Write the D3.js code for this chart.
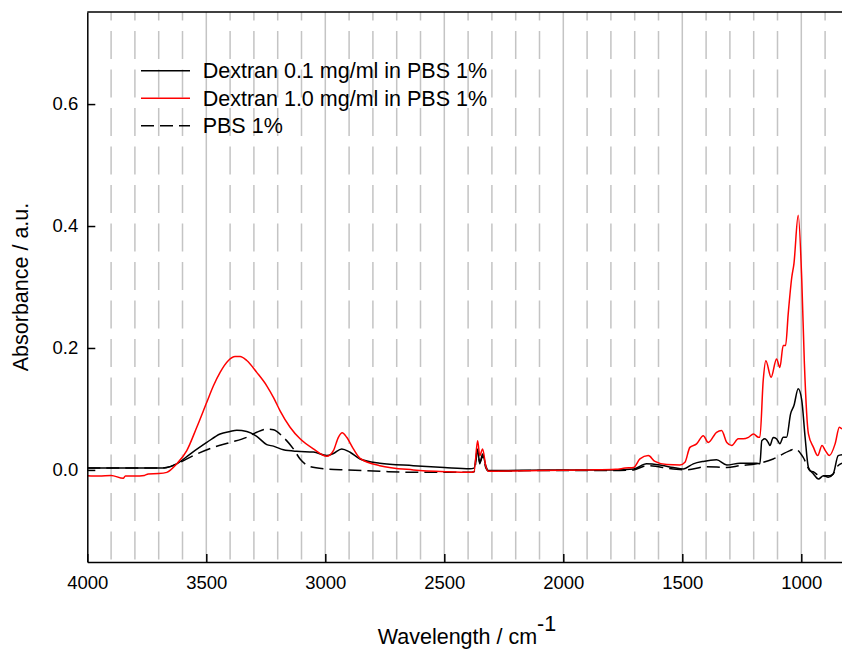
<!DOCTYPE html>
<html>
<head>
<meta charset="utf-8">
<script src="https://cdn.jsdelivr.net/npm/d3@7"></script>
<style>
  body { margin: 0; background: #fff; }
  svg { font-family: "Liberation Sans", Arial, sans-serif; }
</style>
</head>
<body>
<div id="chart"></div>
<script>
const width = 842;
const height = 649;
const margin = {'top': 12, 'bottom': 87, 'left': 87.3, 'right': 0};

// values (wavenumber in cm-1, absorbance in a.u.)
const dex01Wn  = [4000, 3900, 3800, 3700, 3666, 3624, 3568, 3498, 3442, 3400, 3372, 3330, 3288, 3246, 3218, 3176, 3120, 3050, 2994, 2966, 2931, 2896, 2854, 2771, 2630, 2500, 2392, 2375, 2360, 2351, 2339, 2325, 2315, 2296, 2057, 1800, 1705, 1650, 1594, 1538, 1496, 1454, 1412, 1356, 1313, 1258, 1188, 1174, 1166, 1153, 1139, 1132, 1118, 1104, 1090, 1076, 1062, 1045, 1031, 1013, 998, 984, 970, 949, 928, 907, 887, 866, 845, 829];
const dex01Abs = [0.003, 0.003, 0.003, 0.003, 0.004, 0.010, 0.026, 0.045, 0.059, 0.063, 0.065, 0.063, 0.055, 0.0415, 0.039, 0.033, 0.0305, 0.0295, 0.0235, 0.027, 0.0345, 0.029, 0.018, 0.011, 0.007, 0.004, 0.002, 0.003, 0.0345, 0.010, 0.026, 0.006, -0.001, -0.001, 0.000, 0.000, 0.0016, 0.010, 0.008, 0.004, 0.0016, 0.010, 0.014, 0.0165, 0.008, 0.011, 0.011, 0.010, 0.048, 0.051, 0.045, 0.040, 0.053, 0.051, 0.043, 0.0535, 0.0535, 0.092, 0.1055, 0.133, 0.114, 0.0535, 0.004, -0.0066, -0.015, -0.0094, -0.012, -0.0066, 0.0235, 0.025];

const dex10Wn  = [4000, 3950, 3900, 3849, 3840, 3800, 3760, 3744, 3700, 3666, 3624, 3582, 3540, 3498, 3470, 3442, 3407, 3379, 3358, 3330, 3288, 3246, 3218, 3190, 3148, 3106, 3050, 2994, 2966, 2945, 2929, 2910, 2882, 2854, 2771, 2630, 2490, 2392, 2375, 2360, 2351, 2339, 2325, 2315, 2296, 2100, 1900, 1780, 1740, 1705, 1678, 1643, 1615, 1566, 1510, 1489, 1468, 1440, 1412, 1391, 1356, 1335, 1313, 1292, 1265, 1244, 1222, 1201, 1180, 1174, 1160, 1149, 1127, 1104, 1090, 1076, 1066, 1055, 1040, 1031, 1013, 998, 987, 970, 949, 931, 913, 899, 882, 858, 840, 829];
const dex10Abs = [-0.0095, -0.010, -0.009, -0.0138, -0.010, -0.010, -0.009, -0.0066, -0.006, -0.004, 0.010, 0.0317, 0.070, 0.111, 0.138, 0.160, 0.1795, 0.186, 0.186, 0.1795, 0.160, 0.138, 0.119, 0.097, 0.070, 0.051, 0.0345, 0.0223, 0.0317, 0.0535, 0.061, 0.0535, 0.0345, 0.019, 0.007, 0.000, -0.003, -0.004, -0.003, 0.048, 0.0235, 0.0345, 0.005, -0.002, -0.002, -0.001, 0.000, 0.001, 0.003, 0.004, 0.018, 0.0235, 0.014, 0.0087, 0.008, 0.0125, 0.037, 0.0427, 0.056, 0.045, 0.0617, 0.0645, 0.045, 0.040, 0.051, 0.051, 0.0535, 0.059, 0.0535, 0.0535, 0.147, 0.179, 0.152, 0.182, 0.168, 0.204, 0.204, 0.256, 0.316, 0.338, 0.4175, 0.311, 0.174, 0.059, 0.037, 0.0235, 0.040, 0.0317, 0.0235, 0.0427, 0.070, 0.067];

const pbsWn  = [4000, 3800, 3700, 3666, 3624, 3555, 3470, 3400, 3330, 3288, 3246, 3218, 3176, 3134, 3106, 3064, 2994, 2910, 2771, 2630, 2392, 2375, 2360, 2351, 2339, 2325, 2315, 2296, 2098, 1800, 1705, 1650, 1538, 1482, 1398, 1313, 1258, 1188, 1118, 1048, 1027, 992, 964, 950, 922, 908, 880, 866, 852, 829];
const pbsAbs = [0.003, 0.003, 0.003, 0.004, 0.010, 0.0235, 0.037, 0.045, 0.0535, 0.0617, 0.067, 0.066, 0.0535, 0.0345, 0.018, 0.0054, 0.0016, 0.000, -0.0023, -0.004, -0.004, -0.003, 0.029, 0.012, 0.022, 0.003, -0.002, -0.002, -0.001, -0.001, 0.000, 0.007, 0.0016, 0.000, 0.0054, 0.004, 0.007, 0.010, 0.018, 0.0317, 0.0345, 0.0207, -0.001, -0.003, -0.0094, -0.0094, -0.0094, -0.0066, 0.004, 0.011];

const seriesNames = ['Dextran 0.1 mg/ml in PBS 1%', 'Dextran 1.0 mg/ml in PBS 1%', 'PBS 1%'];
const seriesColors = ['#000000', '#ff0000', '#000000'];
const seriesDash = [null, null, '13,6'];

const xTicks = [4000, 3500, 3000, 2500, 2000, 1500, 1000];
const yTicks = [0.0, 0.2, 0.4, 0.6];
const gridValues = d3.range(900, 4000, 100);

const zip = (wn, ab) => wn.map((w, i) => ({wn: w, abs: ab[i]}));
const series = [zip(dex01Wn, dex01Abs), zip(dex10Wn, dex10Abs), zip(pbsWn, pbsAbs)];

const svg = d3.select('#chart')
  .append('svg')
  .attr('width', width)
  .attr('height', height);

// scales
const x = d3.scaleLinear()
  .domain([4000, 829])
  .range([margin.left, width - margin.right]);

const y = d3.scaleLinear()
  .domain([-0.151, 0.751])
  .range([height - margin.bottom, margin.top]);

// grid lines, solid every 500, dashed in between
svg.append('g')
  .attr('class', 'grid')
  .selectAll('line')
  .data(gridValues)
  .join('line')
  .attr('x1', d => x(d))
  .attr('x2', d => x(d))
  .attr('y1', margin.top)
  .attr('y2', height - margin.bottom)
  .attr('stroke', '#c4c4c4')
  .attr('stroke-width', 1.5)
  .attr('stroke-dasharray', d => d % 500 === 0 ? null : '28,10.5')
  .attr('stroke-dashoffset', 19.5);

svg.append('clipPath')
  .attr('id', 'plot-clip')
  .append('rect')
  .attr('x', margin.left)
  .attr('y', margin.top)
  .attr('width', width - margin.left - margin.right)
  .attr('height', height - margin.top - margin.bottom);

// spectra
const line = d3.line()
  .x(d => x(d.wn))
  .y(d => y(d.abs))
  .curve(d3.curveMonotoneX);

const plot = svg.append('g').attr('clip-path', 'url(#plot-clip)');
[2, 0, 1].forEach(i => {
  plot.append('path')
    .datum(series[i])
    .attr('fill', 'none')
    .attr('stroke', seriesColors[i])
    .attr('stroke-width', 1.5)
    .attr('stroke-dasharray', seriesDash[i])
    .attr('d', line);
});

// axes
const xAxis = svg.append('g')
  .attr('transform', 'translate(0,' + (height - margin.bottom) + ')')
  .call(d3.axisBottom(x).tickValues(xTicks).tickFormat(d3.format('d')).tickSizeInner(-8).tickSizeOuter(0).tickPadding(14));

const yAxis = svg.append('g')
  .attr('transform', 'translate(' + margin.left + ',0)')
  .call(d3.axisLeft(y).tickValues(yTicks).tickFormat(d3.format('.1f')).tickSizeInner(-8).tickSizeOuter(0).tickPadding(9));

[xAxis, yAxis].forEach(a => {
  a.select('.domain').attr('stroke', '#000').attr('stroke-width', 1.5);
  a.selectAll('.tick line').attr('stroke', '#000').attr('stroke-width', 1.5);
  a.selectAll('.tick text').attr('fill', '#000').attr('font-size', 18.5).attr('font-family', '"Liberation Sans", Arial, sans-serif');
});

// top frame line
svg.append('line')
  .attr('x1', margin.left)
  .attr('x2', width)
  .attr('y1', margin.top)
  .attr('y2', margin.top)
  .attr('stroke', '#000')
  .attr('stroke-width', 1.5);

// axis titles
const xTitle = svg.append('text')
  .attr('x', 467)
  .attr('y', 644)
  .attr('text-anchor', 'middle')
  .attr('font-size', 21.5);
xTitle.append('tspan').text('Wavelength / cm');
xTitle.append('tspan').attr('dy', -13).attr('font-size', 21.5).text('-1');

svg.append('text')
  .attr('transform', 'translate(28,287) rotate(-90)')
  .attr('text-anchor', 'middle')
  .attr('font-size', 21.5)
  .text('Absorbance / a.u.');

// legend
const legend = svg.append('g').attr('class', 'legend');
seriesNames.forEach((name, i) => {
  const ly = 70.7 + i * 27.5;
  legend.append('line')
    .attr('x1', 141)
    .attr('x2', 190)
    .attr('y1', ly)
    .attr('y2', ly)
    .attr('stroke', seriesColors[i])
    .attr('stroke-width', 1.5)
    .attr('stroke-dasharray', seriesDash[i]);
  legend.append('text')
    .attr('x', 202.7)
    .attr('y', ly)
    .attr('dy', '0.36em')
    .attr('font-size', 21.5)
    .text(name);
});
</script>
</body>
</html>
